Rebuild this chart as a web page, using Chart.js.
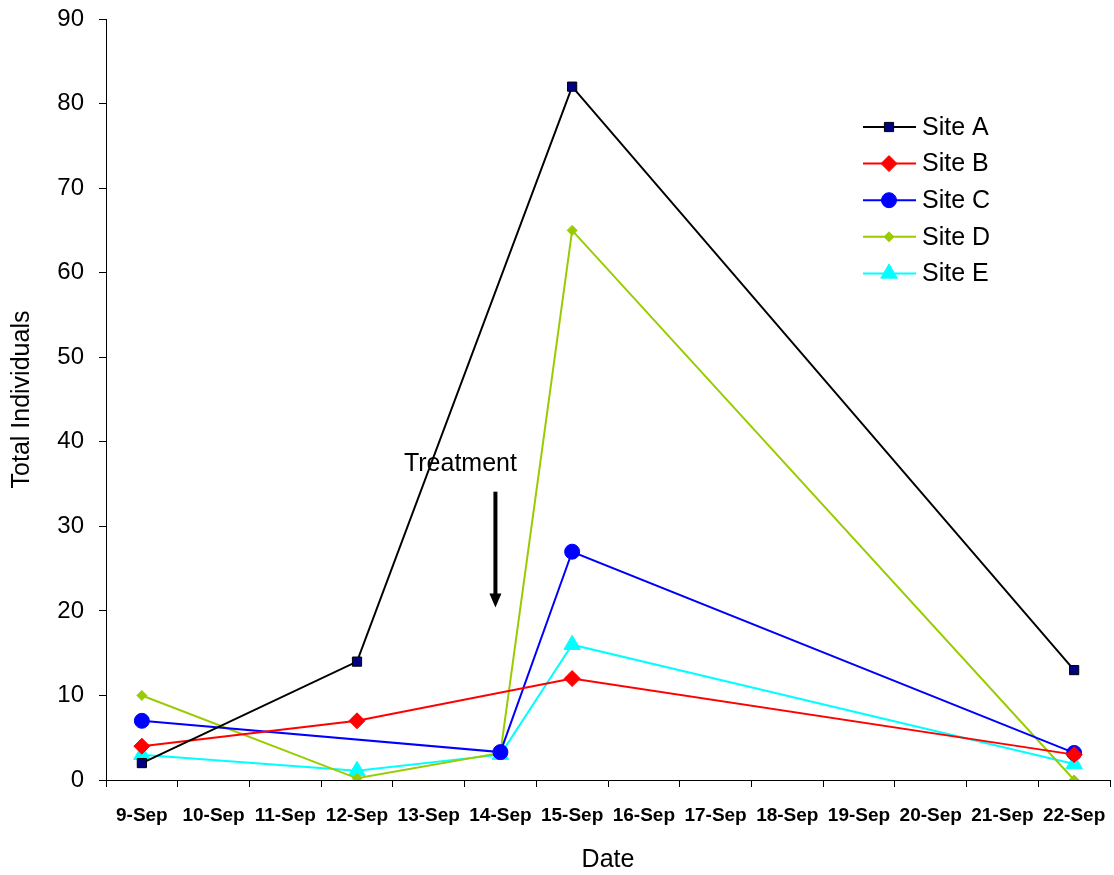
<!DOCTYPE html>
<html>
<head>
<meta charset="utf-8">
<script src="https://cdn.jsdelivr.net/npm/chart.js@4"></script>
<style>
  html, body { margin: 0; padding: 0; background: #fff; overflow: hidden; }
  #wrap { width: 1114px; height: 875px; position: relative; }
  canvas { display: block; }
</style>
</head>
<body>
<div id="wrap"><canvas id="chart"></canvas></div>
<script>
// data
const dates = ['9-Sep', '10-Sep', '11-Sep', '12-Sep', '13-Sep', '14-Sep', '15-Sep',
  '16-Sep', '17-Sep', '18-Sep', '19-Sep', '20-Sep', '21-Sep', '22-Sep'];
const siteA = [2, null, null, 14, null, null, 82, null, null, null, null, null, null, 13];
const siteB = [4, null, null, 7, null, null, 12, null, null, null, null, null, null, 3];
const siteC = [7, null, null, null, null, 3.3, 27, null, null, null, null, null, null, 3.2];
const siteD = [10, null, null, 0.2, null, 3.2, 65, null, null, null, null, null, null, 0];
const siteE = [3, null, null, 1.1, null, 3, 16, null, null, null, null, null, null, 1.9];
const yTicks = [0, 10, 20, 30, 40, 50, 60, 70, 80, 90];

const FONT = 'Arial, "Liberation Sans", sans-serif';

function ds(label, data, color, fill, style, radius, border) {
  return {
    label: label,
    data: data,
    borderColor: color,
    borderWidth: 2,
    pointStyle: style,
    pointRadius: radius,
    pointHoverRadius: radius,
    pointBackgroundColor: fill,
    pointBorderColor: border || fill,
    pointBorderWidth: 1,
    spanGaps: true,
    tension: 0
  };
}

const datasets = [
  ds('Site A', siteA, '#000000', '#000080', 'rect', 6.5, '#000000'),
  ds('Site B', siteB, '#FF0000', '#FF0000', 'rectRot', 8),
  ds('Site C', siteC, '#0000FF', '#0000FF', 'circle', 7.5),
  ds('Site D', siteD, '#99CC00', '#99CC00', 'rectRot', 5),
  ds('Site E', siteE, '#00FFFF', '#00FFFF', 'triangle', 9.5)
];

// legend drawn inside the plot, line + marker like the original
const lineLegend = {
  id: 'lineLegend',
  afterDraw(chart) {
    const ctx = chart.ctx;
    const x0 = 863, y0 = 127, gap = 36.6;
    ctx.save();
    chart.data.datasets.forEach((d, i) => {
      const y = y0 + i * gap;
      ctx.strokeStyle = d.borderColor;
      ctx.lineWidth = 2;
      ctx.beginPath();
      ctx.moveTo(x0, y);
      ctx.lineTo(x0 + 53, y);
      ctx.stroke();
      ctx.fillStyle = d.pointBackgroundColor;
      ctx.strokeStyle = d.pointBorderColor;
      ctx.lineWidth = 1;
      Chart.helpers.drawPoint(ctx, {pointStyle: d.pointStyle, radius: d.pointRadius, rotation: 0, borderWidth: 1}, x0 + 26, y);
      ctx.fillStyle = '#000';
      ctx.font = '25px ' + FONT;
      ctx.textAlign = 'left';
      ctx.textBaseline = 'middle';
      ctx.fillText(d.label, x0 + 59, y + 1);
    });
    ctx.restore();
  }
};

// "Treatment" note with the arrow
const treatment = {
  id: 'treatment',
  afterDraw(chart) {
    const ctx = chart.ctx;
    const xs = chart.scales.x, ys = chart.scales.y;
    const x = xs.getPixelForValue(5) - 5;
    const yTop = ys.getPixelForValue(34.1);
    const yBot = ys.getPixelForValue(20.4);
    ctx.save();
    ctx.fillStyle = '#000';
    ctx.font = '25px ' + FONT;
    ctx.textAlign = 'center';
    ctx.textBaseline = 'middle';
    ctx.fillText('Treatment', x - 35, ys.getPixelForValue(37.4));
    ctx.strokeStyle = '#000';
    ctx.lineWidth = 4;
    ctx.beginPath();
    ctx.moveTo(x, yTop);
    ctx.lineTo(x, yBot - 10);
    ctx.stroke();
    ctx.beginPath();
    ctx.moveTo(x - 6, yBot - 14);
    ctx.lineTo(x + 6, yBot - 14);
    ctx.lineTo(x, yBot);
    ctx.closePath();
    ctx.fill();
    ctx.restore();
  }
};

new Chart(document.getElementById('chart'), {
  type: 'line',
  data: { labels: dates, datasets: datasets },
  options: {
    responsive: true,
    maintainAspectRatio: false,
    animation: false,
    layout: { autoPadding: false, padding: { left: 0, right: 4, top: 19, bottom: 0 } },
    plugins: {
      legend: { display: false },
      tooltip: { enabled: false }
    },
    scales: {
      x: {
        type: 'category',
        offset: true,
        afterFit(scale) {
          scale.height = 95;
          scale.paddingLeft = 0;
          scale.paddingRight = 0;
        },
        grid: { offset: true, drawOnChartArea: false, color: '#000', tickLength: 7 },
        border: { color: '#000', width: 1 },
        ticks: {
          color: '#000',
          font: { family: FONT, size: 19, weight: 'bold' },
          autoSkip: false,
          maxRotation: 0,
          padding: 17
        },
        title: {
          display: true,
          text: 'Date',
          color: '#000',
          font: { family: FONT, size: 25 },
          padding: { top: 0, bottom: 0 }
        }
      },
      y: {
        min: 0,
        max: 90,
        afterBuildTicks(scale) { scale.ticks = yTicks.map(v => ({ value: v })); },
        afterFit(scale) {
          scale.width = 106;
          scale.paddingTop = 0;
          scale.paddingBottom = 0;
        },
        grid: { drawOnChartArea: false, color: '#000', tickLength: 7 },
        border: { color: '#000', width: 1 },
        ticks: {
          color: '#000',
          font: { family: FONT, size: 24 },
          padding: 15
        },
        title: {
          display: true,
          text: 'Total Individuals',
          color: '#000',
          font: { family: FONT, size: 25 },
          padding: { top: 7, bottom: 0 }
        }
      }
    }
  },
  plugins: [lineLegend, treatment]
});
</script>
</body>
</html>
